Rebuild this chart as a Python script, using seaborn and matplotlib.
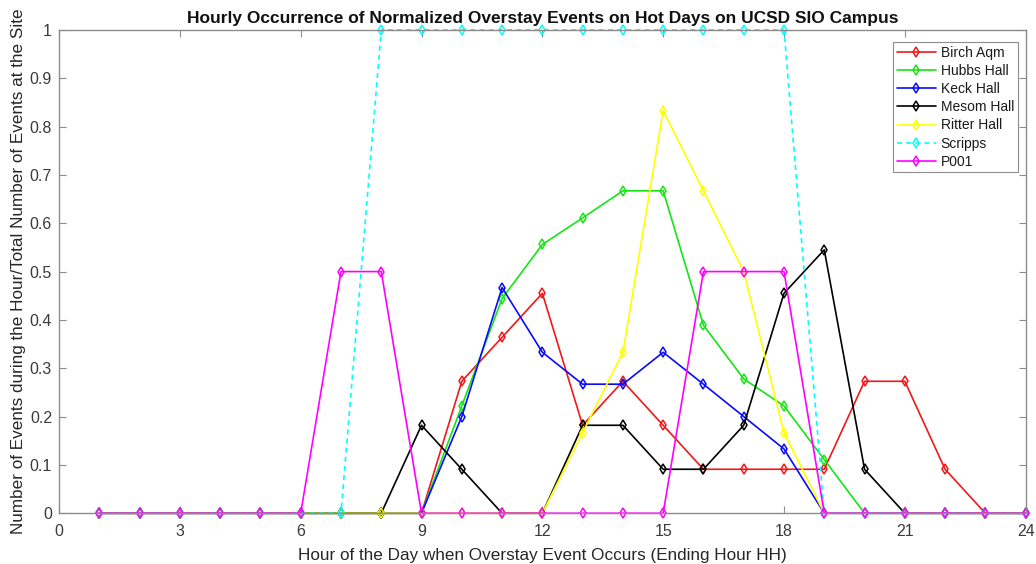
import matplotlib
matplotlib.use("Agg")
import matplotlib.pyplot as plt
import seaborn as sns
import pandas as pd

# Hour of the day (ending hour HH)
hours = list(range(1, 25))

# Normalized overstay event share per hour, one list per site
birch_aqm = [0, 0, 0, 0, 0, 0, 0, 0,
             0, 0.273, 0.364, 0.455, 0.182, 0.273, 0.182, 0.091,
             0.091, 0.091, 0.091, 0.273, 0.273, 0.091, 0, 0]
hubbs_hall = [0, 0, 0, 0, 0, 0, 0, 0,
              0, 0.222, 0.444, 0.556, 0.611, 0.667, 0.667, 0.389,
              0.278, 0.222, 0.111, 0, 0, 0, 0, 0]
keck_hall = [0, 0, 0, 0, 0, 0, 0, 0,
             0, 0.2, 0.467, 0.333, 0.267, 0.267, 0.333, 0.267,
             0.2, 0.133, 0, 0, 0, 0, 0, 0]
mesom_hall = [0, 0, 0, 0, 0, 0, 0, 0,
              0.182, 0.091, 0, 0, 0.182, 0.182, 0.091, 0.091,
              0.182, 0.455, 0.545, 0.091, 0, 0, 0, 0]
ritter_hall = [0, 0, 0, 0, 0, 0, 0, 0,
               0, 0, 0, 0, 0.167, 0.333, 0.833, 0.667,
               0.5, 0.167, 0, 0, 0, 0, 0, 0]
scripps = [0, 0, 0, 0, 0, 0, 0, 1,
           1, 1, 1, 1, 1, 1, 1, 1,
           1, 1, 0, 0, 0, 0, 0, 0]
p001 = [0, 0, 0, 0, 0, 0, 0.5, 0.5,
        0, 0, 0, 0, 0, 0, 0, 0.5,
        0.5, 0.5, 0, 0, 0, 0, 0, 0]

site_names = ["Birch Aqm", "Hubbs Hall", "Keck Hall", "Mesom Hall",
              "Ritter Hall", "Scripps", "P001"]
site_values = [birch_aqm, hubbs_hall, keck_hall, mesom_hall,
               ritter_hall, scripps, p001]
site_colors = ["#f01818", "#14e614", "#0a0aff", "#000000",
               "#ffff00", "#00ffff", "#ff00ff"]
site_dashes = ["-", "-", "-", "-", "-", (0, (3, 2.5)), "-"]

x_ticks = [0, 3, 6, 9, 12, 15, 18, 21, 24]
y_ticks = [0, 0.1, 0.2, 0.3, 0.4, 0.5, 0.6, 0.7, 0.8, 0.9, 1]
y_tick_labels = ["0", "0.1", "0.2", "0.3", "0.4", "0.5", "0.6", "0.7", "0.8", "0.9", "1"]

sns.set_theme(style="white")
plt.rcParams["font.family"] = ["Liberation Sans", "DejaVu Sans"]

fig = plt.figure(figsize=(10.36, 5.64), dpi=100)
ax = fig.add_axes([0.057, 0.090, 0.933, 0.857])

for name, vals, col, ls in zip(site_names, site_values, site_colors, site_dashes):
    df = pd.DataFrame({"hour": hours, "share": vals})
    sns.lineplot(data=df, x="hour", y="share", ax=ax, color=col, label=name,
                 linestyle=ls, linewidth=1.2, marker="d", markersize=5.5,
                 markerfacecolor="none", markeredgecolor=col,
                 markeredgewidth=1.1, clip_on=False)

ax.set_xlim(0, 24)
ax.set_ylim(0, 1)
ax.set_xticks(x_ticks)
ax.set_xticklabels([str(t) for t in x_ticks])
ax.set_yticks(y_ticks)
ax.set_yticklabels(y_tick_labels)

axis_grey = "#8c8c8c"
for sp in ax.spines.values():
    sp.set_color(axis_grey)
    sp.set_linewidth(1.0)
ax.tick_params(direction="in", length=5, width=0.8, color=axis_grey,
               labelcolor="#3a3a3a", labelsize=11.5, top=True, right=True,
               bottom=True, left=True)
ax.tick_params(axis="x", pad=8)
ax.tick_params(axis="y", pad=5)

ax.set_title("Hourly Occurrence of Normalized Overstay Events on Hot Days on UCSD SIO Campus",
             fontsize=12.5, fontweight="bold", color="#111111", pad=5)
ax.set_xlabel("Hour of the Day when Overstay Event Occurs (Ending Hour HH)",
              fontsize=12.3, color="#262626", labelpad=6)
ax.set_ylabel("Number of Events during the Hour/Total Number of Events at the Site",
              fontsize=12.3, color="#262626", labelpad=3)

leg = ax.legend(loc="upper right", bbox_to_anchor=(0.9945, 0.98), fontsize=10,
                frameon=True, fancybox=False, framealpha=1, edgecolor=axis_grey,
                handlelength=2.8, handletextpad=0.35, labelspacing=0.3,
                borderpad=0.25, borderaxespad=0.2)
leg.get_frame().set_linewidth(0.8)
for txt in leg.get_texts():
    txt.set_color("#1a1a1a")

fig.savefig("out.png", dpi=100, facecolor="white")
